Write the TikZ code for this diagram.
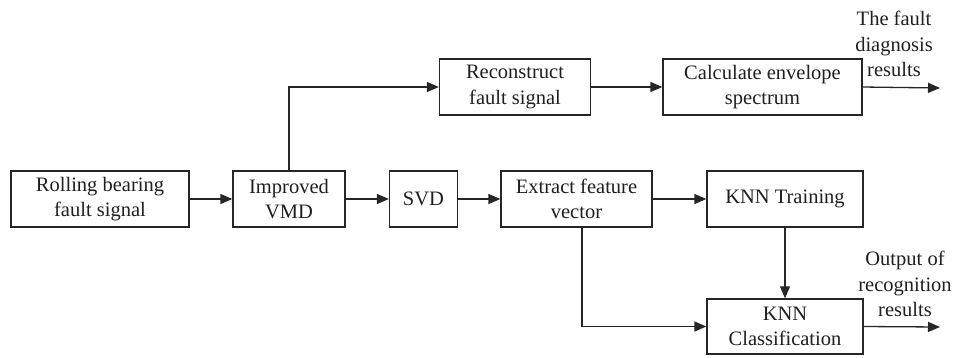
\documentclass[tikz,border=0pt]{standalone}
\usepackage{fontspec}
\setmainfont{Liberation Serif}
\usetikzlibrary{arrows.meta}
\begin{document}
\begin{tikzpicture}[x=1pt,y=-1pt,
  box/.style={draw, line width=1.3pt, minimum height=56pt, inner sep=0pt, align=center,
    font=\fontsize{20.5}{25.5}\selectfont, text=black!88},
  lbl/.style={align=center, font=\fontsize{20.5}{25.5}\selectfont, text=black!88, inner sep=0pt},
  arr/.style={line width=1.3pt, -{Triangle[length=12pt,width=10pt]}},
  color=black!85]
\useasboundingbox (0,0) rectangle (959,357);
\node[box, minimum width=178pt] (rb) at (100,199) {Rolling bearing\\fault signal};
\node[box, minimum width=112pt] (vmd) at (289,199) {Improved\\VMD};
\node[box, minimum width=68pt] (svd) at (423.5,199) {SVD};
\node[box, minimum width=151pt] (ext) at (576.5,199) {Extract feature\\vector};
\node[box, minimum width=156pt] (trn) at (785,199) {KNN Training};
\node[box, minimum width=151pt] (rec) at (515,87) {Reconstruct\\fault signal};
\node[box, minimum width=199pt] (env) at (762.5,87) {Calculate envelope\\spectrum};
\node[box, minimum width=156pt, minimum height=55pt] (cls) at (785,326.5) {KNN\\Classification};
\node[lbl] (t1) at (894,44) {The fault\\diagnosis\\results};
\node[lbl] (t2) at (905,284) {Output of\\recognition\\results};
\coordinate (e1) at (940,88);
\coordinate (e2) at (940,327);
\draw[arr] (rb) -- (vmd);
\draw[arr] (vmd) -- (svd);
\draw[arr] (svd) -- (ext);
\draw[arr] (ext) -- (trn);
\draw[arr] (vmd.north) |- (rec.west);
\draw[arr] (rec) -- (env);
\draw[arr] (env.east) -- (e1);
\draw[arr] (trn) -- (cls);
\draw[arr] ([xshift=5.5pt]ext.south) |- (cls.west);
\draw[arr] (cls.east) -- (e2);
\end{tikzpicture}
\end{document}
